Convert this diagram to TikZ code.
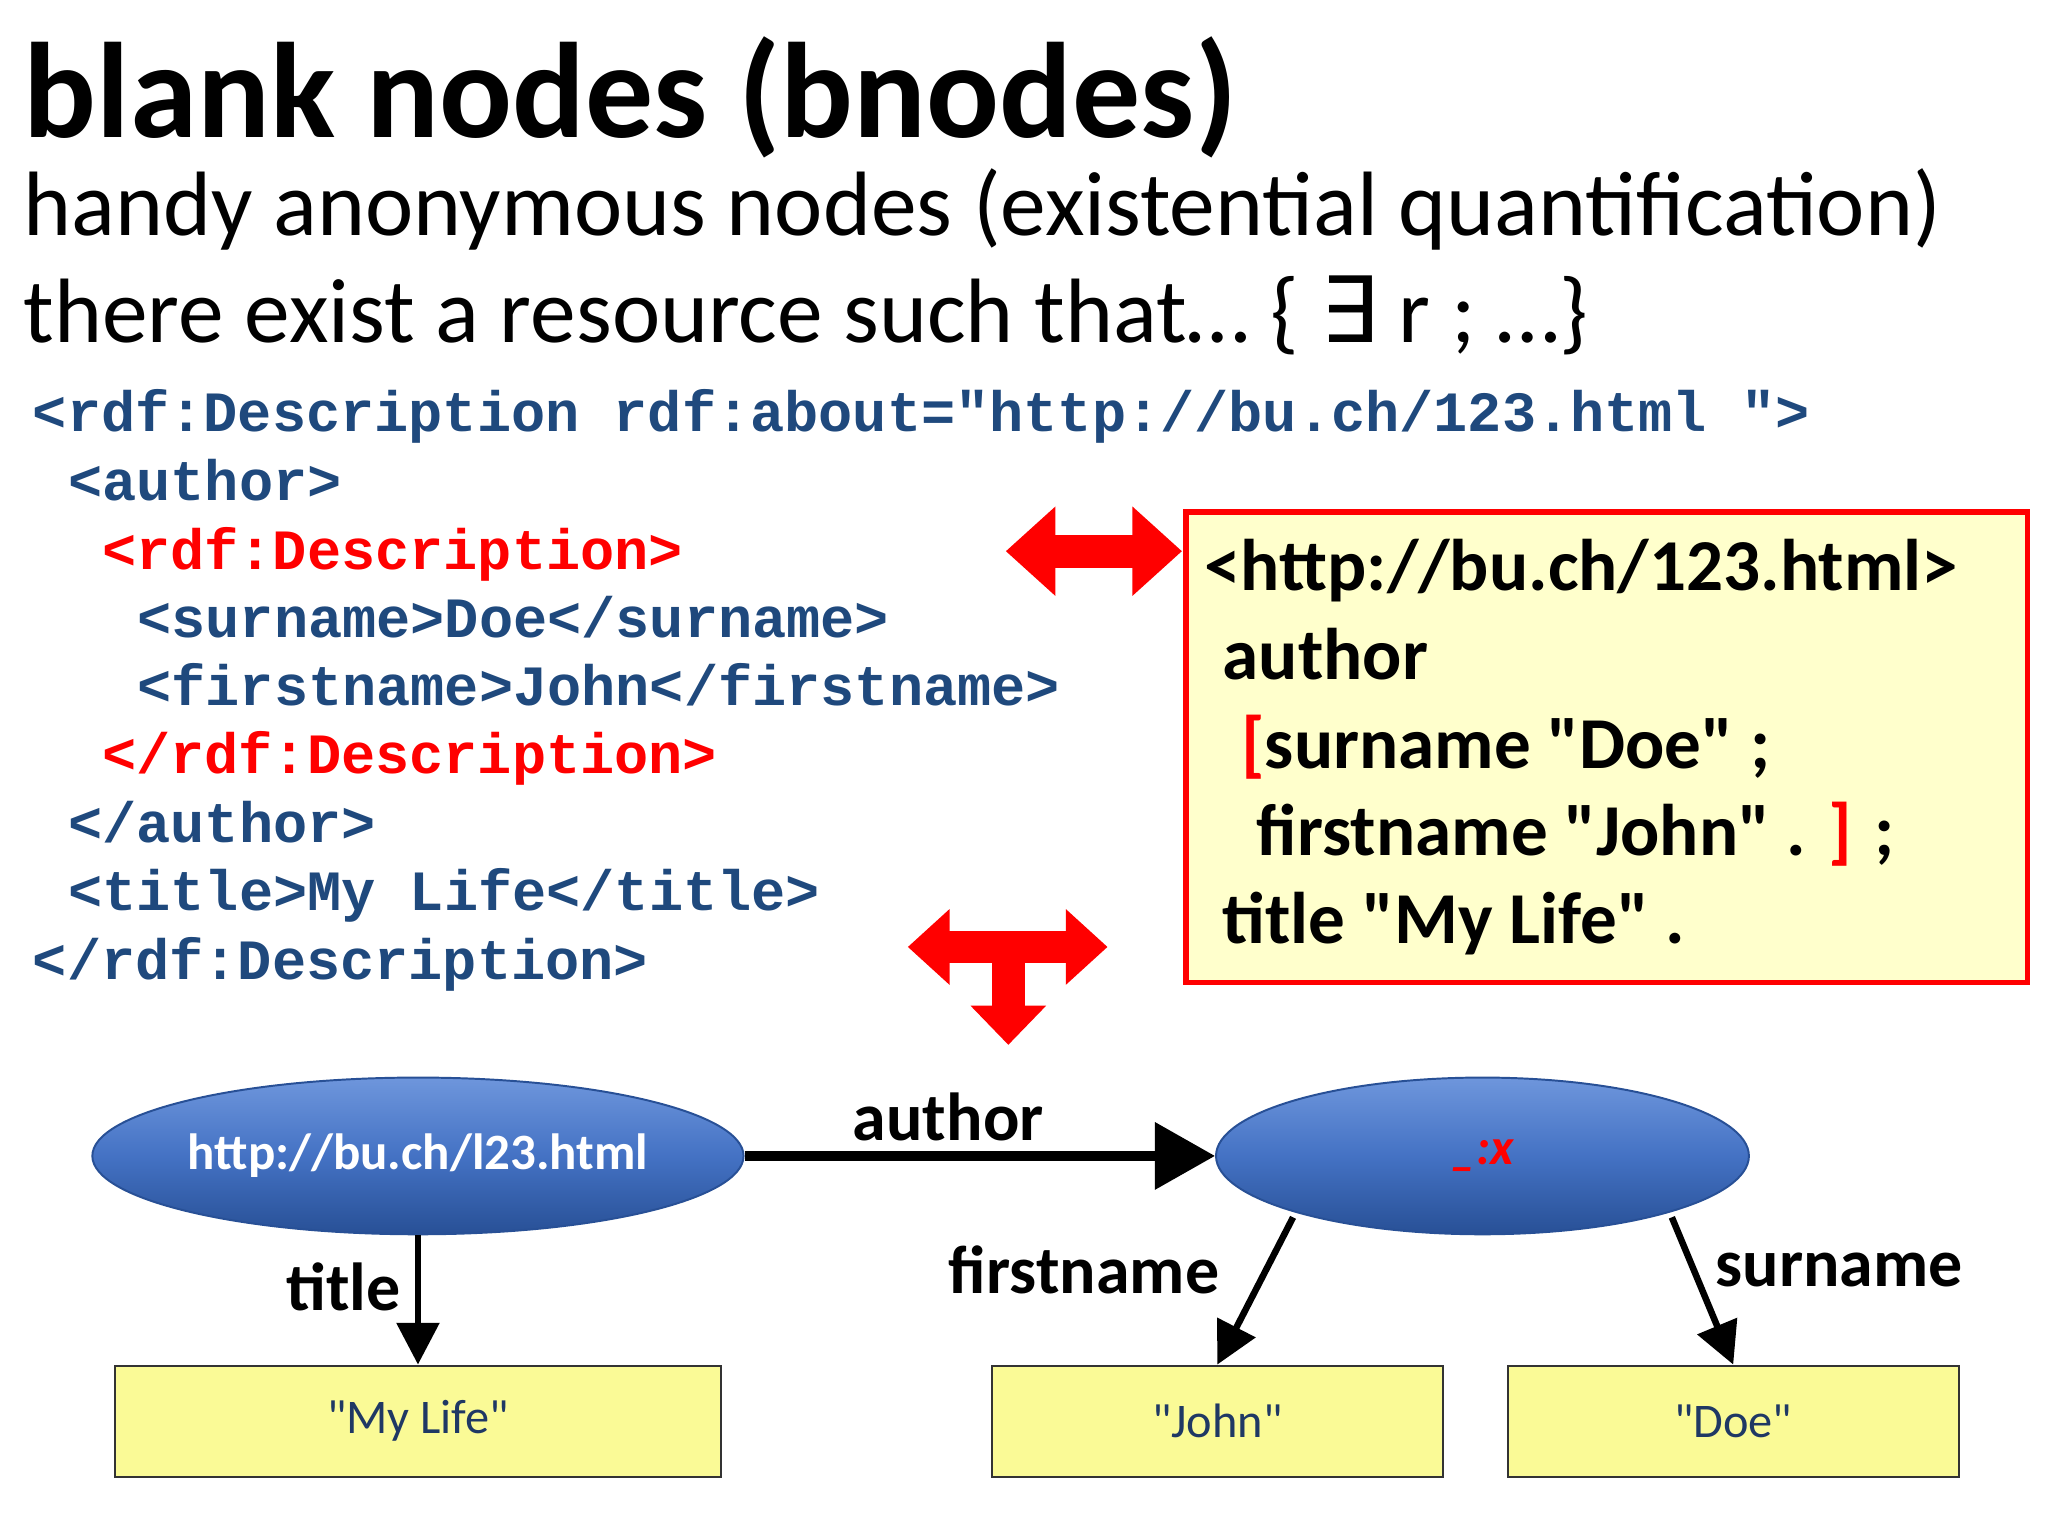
\documentclass[tikz,border=0pt]{standalone}
\usepackage{fontspec}
\setmainfont{Carlito}
\newfontfamily\codefont{Liberation Mono}
\newfontfamily\symfont{DejaVu Sans}
\newcommand{\qq}{\textquotedbl}
\usetikzlibrary{arrows.meta,calc,shapes.geometric}
\definecolor{codeblue}{RGB}{31,73,125}
\definecolor{boxyel}{RGB}{255,255,204}
\definecolor{lblyel}{RGB}{250,250,150}
\definecolor{txtblue}{RGB}{31,56,100}
\definecolor{ellblue}{RGB}{68,114,196}
\definecolor{ellblueL}{RGB}{110,150,220}
\definecolor{ellblueD}{RGB}{40,80,150}
\definecolor{myred}{RGB}{255,0,0}
\tikzset{
 code/.style={anchor=base west,inner sep=0,font=\codefont\bfseries\fontsize{43.6}{43.6}\selectfont,text=codeblue},
 tur/.style={anchor=base west,inner sep=0,font=\bfseries\fontsize{56}{56}\selectfont},
 ell/.style={ellipse,draw=ellblueD,line width=1.5pt,top color=ellblueL,bottom color=ellblueD,middle color=ellblue,minimum height=120pt,inner sep=0,text=white,font=\bfseries\fontsize{39}{39}\selectfont},
 lit/.style={draw=black!80,line width=1.5pt,fill=lblyel,minimum height=85pt,inner sep=0,text=txtblue,font=\fontsize{37}{37}\selectfont},
 lab/.style={inner sep=0,font=\bfseries\fontsize{52}{52}\selectfont},
 edge/.style={line width=5pt,-{Triangle[length=32pt,width=32pt]}},
 redarr/.style={myred,line width=25pt},
}
\begin{document}
\begin{tikzpicture}[x=1pt,y=-1pt]
\useasboundingbox[fill=white] (0,0) rectangle (1568,1176);
\node[anchor=base west,inner sep=0,font=\bfseries\fontsize{104}{104}\selectfont] (t) at (18,105) {blank nodes (bnodes)};
\node[anchor=base west,inner sep=0,font=\fontsize{70}{70}\selectfont] (s1) at (18,180) {handy anonymous nodes (existential quantification)};
\node[anchor=base west,inner sep=0,font=\fontsize{70}{70}\selectfont] (s2) at (18,262) {there exist a resource such that… \{ {\symfont ∃} r ; …\}};
% code
\node[code] (c1) at (25,330) {<rdf:Description rdf:about="http://bu.ch/123.html ">};
\node[code] (c2) at (52,383) {<author>};
\node[code,text=myred] (c3) at (78,436) {<rdf:Description>};
\node[code] (c4) at (105,488) {<surname>Doe</surname>};
\node[code] (c5) at (105,540) {<firstname>John</firstname>};
\node[code,text=myred] (c6) at (78,592) {</rdf:Description>};
\node[code] (c7) at (52,645) {</author>};
\node[code] (c8) at (52,697) {<title>My Life</title>};
\node[code] (c9) at (25,750) {</rdf:Description>};
% turtle box
\node[draw=myred,line width=4pt,fill=boxyel,minimum width=644pt,minimum height=360pt,anchor=north west,inner sep=0] (box) at (906,390) {};
\node[tur] (r1) at (922,452) {<http://bu.ch/123.html>};
\node[tur] (r2) at (936,520) {author};
\node[tur] (r3) at (950,588) {\textcolor{myred}{[}surname \qq Doe\qq\ ;};
\node[tur] (r4) at (962,655) {firstname \qq John\qq\ . \textcolor{myred}{]} ;};
\node[tur] (r5) at (936,722) {title \qq My Life\qq\ .};
% red arrows
\coordinate (h1) at (770,422); \coordinate (h2) at (905,422);
\draw[redarr,{Triangle[length=38pt,width=66pt]}-{Triangle[length=38pt,width=66pt]}] (h1) -- (h2);
\coordinate (v1) at (695,725); \coordinate (v2) at (848,725);
\coordinate (v3) at (772,718); \coordinate (v4) at (772,800);
\draw[redarr,{Triangle[length=32pt,width=56pt]}-{Triangle[length=32pt,width=56pt]}] (v1) -- (v2);
\draw[redarr,-{Triangle[length=30pt,width=56pt]}] (v3) -- (v4);
% graph
\node[ell,minimum width=430pt] (L) at (320,885) {http://bu.ch/l23.html};
\node[ell,minimum width=408pt] (R) at (1135,885) {\textcolor{myred}{\itshape\_:x}};
\node[lit,minimum width=464pt] (ml) at (320,1088) {\qq My Life\qq};
\node[lit,minimum width=345pt] (jo) at (932,1088) {\qq John\qq};
\node[lit,minimum width=345pt] (do) at (1327,1088) {\qq Doe\qq};
\draw[line width=7pt,-{Triangle[length=46pt,width=50pt]}] (L.east) -- (R.west);
\node[lab] (la) at (726,855) {author};
\draw[edge] (L.south) -- (ml.north);
\node[lab] (lt) at (263,985) {title};
\draw[edge] ($(R.center)+(-145,47)$) -- (jo.north);
\node[lab] (lf) at (830,972) {firstname};
\draw[edge] ($(R.center)+(145,47)$) -- (do.north);
\node[lab] (ls) at (1408,972) {surname};
\end{tikzpicture}
\end{document}
